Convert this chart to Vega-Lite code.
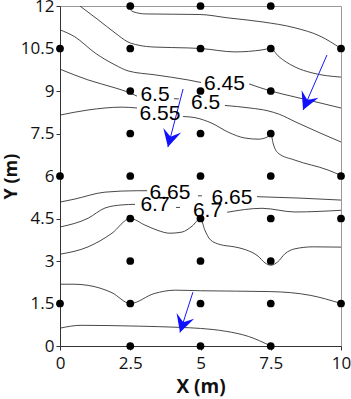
{
  "$schema": "https://vega.github.io/schema/vega-lite/v6.json",
  "width": 281,
  "height": 340,
  "autosize": "none",
  "padding": {"left": 60, "top": 6, "right": 10, "bottom": 53},
  "background": "white",
  "config": {
    "view": {"stroke": "#999", "strokeWidth": 1},
    "axis": {
      "grid": false,
      "labelFont": "Open Sans",
      "labelFontSize": 17,
      "labelColor": "#111",
      "titleFont": "Open Sans",
      "titleFontSize": 19,
      "titleFontWeight": "bold",
      "titleColor": "#111",
      "domainColor": "#333",
      "tickColor": "#333",
      "tickSize": 4,
      "labelFlush": false,
      "labelOverlap": false
    }
  },
  "datasets": {
    "contours": [
      {"seg": "c0", "i": 0, "x": 2.4, "y": 12.0},
      {"seg": "c0", "i": 1, "x": 2.6, "y": 11.8},
      {"seg": "c0", "i": 2, "x": 3.05, "y": 11.72},
      {"seg": "c0", "i": 3, "x": 4.98, "y": 11.7},
      {"seg": "c0", "i": 4, "x": 5.98, "y": 11.58},
      {"seg": "c0", "i": 5, "x": 7.19, "y": 11.44},
      {"seg": "c0", "i": 6, "x": 8.36, "y": 11.23},
      {"seg": "c0", "i": 7, "x": 9.25, "y": 10.94},
      {"seg": "c0", "i": 8, "x": 10, "y": 10.5},

      {"seg": "c1", "i": 0, "x": 0.71, "y": 12.0},
      {"seg": "c1", "i": 1, "x": 1.35, "y": 11.52},
      {"seg": "c1", "i": 2, "x": 1.96, "y": 11.05},
      {"seg": "c1", "i": 3, "x": 2.42, "y": 10.73},
      {"seg": "c1", "i": 4, "x": 2.78, "y": 10.62},
      {"seg": "c1", "i": 5, "x": 3.38, "y": 10.55},
      {"seg": "c1", "i": 6, "x": 4.56, "y": 10.52},
      {"seg": "c1", "i": 7, "x": 5.0, "y": 10.5},
      {"seg": "c1", "i": 8, "x": 6.23, "y": 10.38},
      {"seg": "c1", "i": 9, "x": 7.19, "y": 10.45},
      {"seg": "c1", "i": 10, "x": 7.5, "y": 10.5},
      {"seg": "c1", "i": 11, "x": 7.76, "y": 10.24},
      {"seg": "c1", "i": 12, "x": 8.36, "y": 9.85},
      {"seg": "c1", "i": 13, "x": 8.97, "y": 9.64},
      {"seg": "c1", "i": 14, "x": 10, "y": 9.49},

      {"seg": "c2a", "i": 0, "x": 0, "y": 11.16},
      {"seg": "c2a", "i": 1, "x": 0.53, "y": 10.91},
      {"seg": "c2a", "i": 2, "x": 1.25, "y": 10.34},
      {"seg": "c2a", "i": 3, "x": 1.96, "y": 9.92},
      {"seg": "c2a", "i": 4, "x": 2.42, "y": 9.71},
      {"seg": "c2a", "i": 5, "x": 3.38, "y": 9.57},
      {"seg": "c2a", "i": 6, "x": 4.56, "y": 9.39},
      {"seg": "c2a", "i": 7, "x": 5.02, "y": 9.3},
      {"seg": "c2b", "i": 0, "x": 6.73, "y": 9.25},
      {"seg": "c2b", "i": 1, "x": 7.5, "y": 9.0},
      {"seg": "c2b", "i": 2, "x": 8.36, "y": 8.79},
      {"seg": "c2b", "i": 3, "x": 9.25, "y": 8.58},
      {"seg": "c2b", "i": 4, "x": 10, "y": 8.4},

      {"seg": "c3a", "i": 0, "x": 0, "y": 9.77},
      {"seg": "c3a", "i": 1, "x": 1.0, "y": 9.39},
      {"seg": "c3a", "i": 2, "x": 1.96, "y": 9.11},
      {"seg": "c3a", "i": 3, "x": 2.42, "y": 8.96},
      {"seg": "c3a", "i": 4, "x": 2.74, "y": 8.82},
      {"seg": "c3b", "i": 0, "x": 4.06, "y": 8.73},
      {"seg": "c3b", "i": 1, "x": 4.23, "y": 8.72},
      {"seg": "c3c", "i": 0, "x": 5.87, "y": 8.49},
      {"seg": "c3c", "i": 1, "x": 6.76, "y": 8.4},
      {"seg": "c3c", "i": 2, "x": 7.4, "y": 8.3},
      {"seg": "c3c", "i": 3, "x": 7.8, "y": 8.18},
      {"seg": "c3c", "i": 4, "x": 8.4, "y": 7.9},
      {"seg": "c3c", "i": 5, "x": 9.25, "y": 7.52},
      {"seg": "c3c", "i": 6, "x": 10, "y": 7.2},

      {"seg": "c4a", "i": 0, "x": 0, "y": 8.15},
      {"seg": "c4a", "i": 1, "x": 1.0, "y": 8.33},
      {"seg": "c4a", "i": 2, "x": 2.21, "y": 8.43},
      {"seg": "c4a", "i": 3, "x": 2.74, "y": 8.4},
      {"seg": "c4b", "i": 0, "x": 4.38, "y": 8.1},
      {"seg": "c4b", "i": 1, "x": 4.8, "y": 8.06},
      {"seg": "c4b", "i": 2, "x": 5.41, "y": 7.86},
      {"seg": "c4b", "i": 3, "x": 5.98, "y": 7.55},
      {"seg": "c4b", "i": 4, "x": 6.58, "y": 7.34},
      {"seg": "c4b", "i": 5, "x": 7.05, "y": 7.3},
      {"seg": "c4b", "i": 6, "x": 7.37, "y": 7.37},
      {"seg": "c4b", "i": 7, "x": 7.5, "y": 7.52},
      {"seg": "c4b", "i": 8, "x": 7.58, "y": 7.17},
      {"seg": "c4b", "i": 9, "x": 7.76, "y": 6.81},
      {"seg": "c4b", "i": 10, "x": 8.36, "y": 6.56},
      {"seg": "c4b", "i": 11, "x": 9.54, "y": 6.21},
      {"seg": "c4b", "i": 12, "x": 10, "y": 6.02},

      {"seg": "c5a", "i": 0, "x": 0, "y": 5.08},
      {"seg": "c5a", "i": 1, "x": 0.5, "y": 5.18},
      {"seg": "c5a", "i": 2, "x": 1.6, "y": 5.43},
      {"seg": "c5a", "i": 3, "x": 2.75, "y": 5.48},
      {"seg": "c5a", "i": 4, "x": 3.1, "y": 5.48},
      {"seg": "c5b", "i": 0, "x": 4.91, "y": 5.3},
      {"seg": "c5b", "i": 1, "x": 5.05, "y": 5.3},
      {"seg": "c5c", "i": 0, "x": 7.01, "y": 5.27},
      {"seg": "c5c", "i": 1, "x": 8.54, "y": 5.22},
      {"seg": "c5c", "i": 2, "x": 10, "y": 5.15},

      {"seg": "c6a", "i": 0, "x": 0, "y": 4.2},
      {"seg": "c6a", "i": 1, "x": 1.0, "y": 4.51},
      {"seg": "c6a", "i": 2, "x": 1.6, "y": 4.87},
      {"seg": "c6a", "i": 3, "x": 2.21, "y": 4.98},
      {"seg": "c6a", "i": 4, "x": 2.67, "y": 5.0},
      {"seg": "c6b", "i": 0, "x": 4.13, "y": 4.89},
      {"seg": "c6b", "i": 1, "x": 4.27, "y": 4.89},
      {"seg": "c6c", "i": 0, "x": 5.95, "y": 4.72},
      {"seg": "c6c", "i": 1, "x": 7.19, "y": 4.86},
      {"seg": "c6c", "i": 2, "x": 8.36, "y": 4.73},
      {"seg": "c6c", "i": 3, "x": 10, "y": 4.79},

      {"seg": "c7", "i": 0, "x": 0, "y": 3.24},
      {"seg": "c7", "i": 1, "x": 1.0, "y": 3.5},
      {"seg": "c7", "i": 2, "x": 1.85, "y": 3.98},
      {"seg": "c7", "i": 3, "x": 2.5, "y": 4.5},
      {"seg": "c7", "i": 4, "x": 3.02, "y": 4.27},
      {"seg": "c7", "i": 5, "x": 3.45, "y": 4.09},
      {"seg": "c7", "i": 6, "x": 3.91, "y": 3.98},
      {"seg": "c7", "i": 7, "x": 4.34, "y": 4.02},
      {"seg": "c7", "i": 8, "x": 4.7, "y": 4.23},
      {"seg": "c7", "i": 9, "x": 5.0, "y": 4.5},
      {"seg": "c7", "i": 10, "x": 5.15, "y": 4.1},
      {"seg": "c7", "i": 11, "x": 5.35, "y": 3.75},
      {"seg": "c7", "i": 12, "x": 5.7, "y": 3.58},
      {"seg": "c7", "i": 13, "x": 6.2, "y": 3.5},
      {"seg": "c7", "i": 14, "x": 6.6, "y": 3.4},
      {"seg": "c7", "i": 15, "x": 7.05, "y": 3.17},
      {"seg": "c7", "i": 16, "x": 7.3, "y": 2.93},
      {"seg": "c7", "i": 17, "x": 7.5, "y": 2.85},
      {"seg": "c7", "i": 18, "x": 7.75, "y": 2.97},
      {"seg": "c7", "i": 19, "x": 8.0, "y": 3.25},
      {"seg": "c7", "i": 20, "x": 8.36, "y": 3.43},
      {"seg": "c7", "i": 21, "x": 9.0, "y": 3.5},
      {"seg": "c7", "i": 22, "x": 10, "y": 3.49},

      {"seg": "c8", "i": 0, "x": 0, "y": 2.18},
      {"seg": "c8", "i": 1, "x": 0.5, "y": 2.18},
      {"seg": "c8", "i": 2, "x": 1.0, "y": 2.14},
      {"seg": "c8", "i": 3, "x": 1.85, "y": 1.88},
      {"seg": "c8", "i": 4, "x": 2.5, "y": 1.5},
      {"seg": "c8", "i": 5, "x": 3.35, "y": 1.85},
      {"seg": "c8", "i": 6, "x": 4.1, "y": 1.97},
      {"seg": "c8", "i": 7, "x": 5.0, "y": 1.95},
      {"seg": "c8", "i": 8, "x": 7.5, "y": 1.92},
      {"seg": "c8", "i": 9, "x": 8.9, "y": 1.79},
      {"seg": "c8", "i": 10, "x": 10, "y": 1.5},

      {"seg": "c9", "i": 0, "x": 0, "y": 0.63},
      {"seg": "c9", "i": 1, "x": 0.75, "y": 0.73},
      {"seg": "c9", "i": 2, "x": 2.8, "y": 0.7},
      {"seg": "c9", "i": 3, "x": 4.2, "y": 0.66},
      {"seg": "c9", "i": 4, "x": 5.0, "y": 0.62},
      {"seg": "c9", "i": 5, "x": 5.9, "y": 0.52},
      {"seg": "c9", "i": 6, "x": 6.7, "y": 0.34},
      {"seg": "c9", "i": 7, "x": 7.5, "y": 0}
    ],
    "points": [
      {"x": 2.5, "y": 12}, {"x": 5, "y": 12}, {"x": 7.5, "y": 12},
      {"x": 0, "y": 10.5}, {"x": 2.5, "y": 10.5}, {"x": 5, "y": 10.5}, {"x": 7.5, "y": 10.5}, {"x": 10, "y": 10.5},
      {"x": 2.5, "y": 9}, {"x": 5, "y": 9}, {"x": 7.5, "y": 9},
      {"x": 2.5, "y": 7.5}, {"x": 5, "y": 7.5}, {"x": 7.5, "y": 7.5},
      {"x": 0, "y": 6}, {"x": 2.5, "y": 6}, {"x": 5, "y": 6}, {"x": 7.5, "y": 6}, {"x": 10, "y": 6},
      {"x": 2.5, "y": 4.5}, {"x": 5, "y": 4.5}, {"x": 7.5, "y": 4.5}, {"x": 10, "y": 4.5},
      {"x": 2.5, "y": 3}, {"x": 5, "y": 3}, {"x": 7.5, "y": 3},
      {"x": 0, "y": 1.5}, {"x": 2.5, "y": 1.5}, {"x": 5, "y": 1.5}, {"x": 7.5, "y": 1.5}, {"x": 10, "y": 1.5},
      {"x": 2.5, "y": 0}, {"x": 5, "y": 0}, {"x": 7.5, "y": 0}
    ],
    "arrows": [
      {"x0": 9.5, "y0": 10.27, "x": 8.65, "y": 8.33, "dir": 203.6},
      {"x0": 4.38, "y0": 9.07, "x": 3.84, "y": 7.02, "dir": 194.5},
      {"x0": 4.73, "y0": 1.9, "x": 4.27, "y": 0.48, "dir": 198}
    ],
    "labels": [
      {"x": 5.85, "y": 9.24, "t": "6.45"},
      {"x": 3.38, "y": 8.86, "t": "6.5"},
      {"x": 5.18, "y": 8.58, "t": "6.5"},
      {"x": 3.56, "y": 8.19, "t": "6.55"},
      {"x": 3.91, "y": 5.41, "t": "6.65"},
      {"x": 6.12, "y": 5.24, "t": "6.65"},
      {"x": 3.38, "y": 4.97, "t": "6.7"},
      {"x": 5.25, "y": 4.76, "t": "6.7"}
    ]
  },
  "layer": [
    {
      "data": {"name": "contours"},
      "mark": {"type": "line", "interpolate": "monotone", "color": "#333", "strokeWidth": 0.9, "clip": true},
      "encoding": {
        "x": {"field": "x", "type": "quantitative", "scale": {"domain": [0, 10], "nice": false, "zero": false},
          "axis": {"values": [0, 2.5, 5, 7.5, 10], "labelExpr": "'' + datum.value", "title": "X (m)", "labelPadding": 5, "titlePadding": 6}},
        "y": {"field": "y", "type": "quantitative", "scale": {"domain": [0, 12], "nice": false, "zero": false},
          "axis": {"values": [0, 1.5, 3, 4.5, 6, 7.5, 9, 10.5, 12], "labelExpr": "'' + datum.value", "title": "Y (m)", "labelPadding": 2, "titlePadding": 0, "titleFontSize": 18}},
        "detail": {"field": "seg", "type": "nominal"},
        "order": {"field": "i", "type": "quantitative"}
      }
    },
    {
      "data": {"name": "arrows"},
      "mark": {"type": "rule", "color": "#1515ff", "strokeWidth": 1},
      "encoding": {
        "x": {"field": "x0", "type": "quantitative"},
        "y": {"field": "y0", "type": "quantitative"},
        "x2": {"field": "x"},
        "y2": {"field": "y"}
      }
    },
    {
      "data": {"name": "arrows"},
      "mark": {"type": "point", "shape": "M0,0 L0.9,1.7 L0,1.05 L-0.9,1.7 Z", "filled": true, "color": "#1010ff", "size": 420, "opacity": 1},
      "encoding": {
        "x": {"field": "x", "type": "quantitative"},
        "y": {"field": "y", "type": "quantitative"},
        "angle": {"field": "dir", "type": "quantitative", "scale": null}
      }
    },
    {
      "data": {"name": "points"},
      "mark": {"type": "circle", "color": "black", "size": 60, "opacity": 1},
      "encoding": {
        "x": {"field": "x", "type": "quantitative"},
        "y": {"field": "y", "type": "quantitative"}
      }
    },
    {
      "data": {"name": "labels"},
      "mark": {"type": "text", "font": "Liberation Sans", "fontSize": 21, "color": "black", "align": "center", "baseline": "middle"},
      "encoding": {
        "x": {"field": "x", "type": "quantitative"},
        "y": {"field": "y", "type": "quantitative"},
        "text": {"field": "t", "type": "nominal"}
      }
    }
  ]
}
